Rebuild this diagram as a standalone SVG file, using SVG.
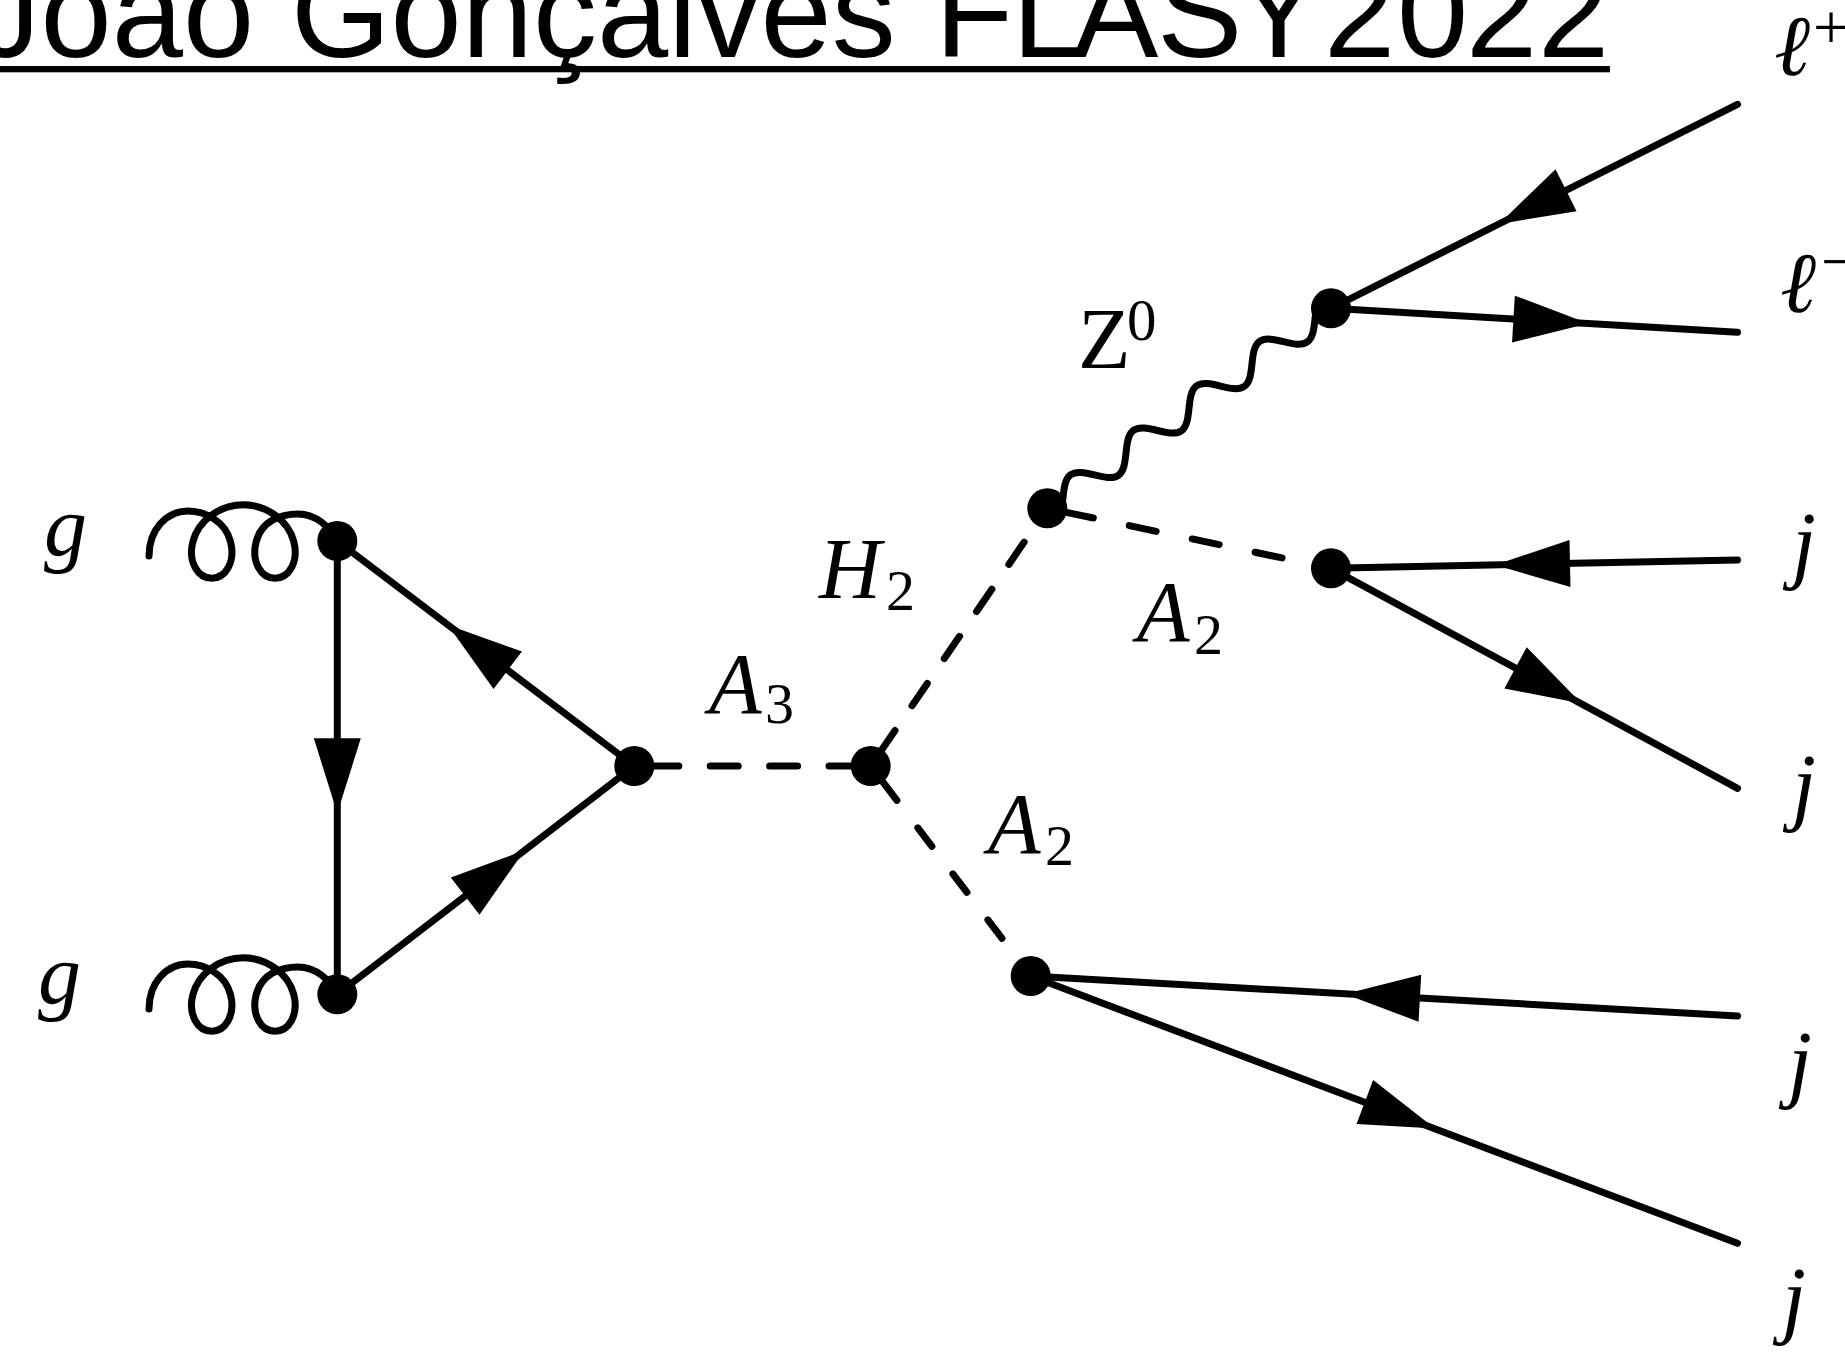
<svg xmlns="http://www.w3.org/2000/svg" xmlns:xlink="http://www.w3.org/1999/xlink" width="1845" height="1355" viewBox="0 0 1845 1355">
<style>
.bg{fill:#fff}
.f{stroke:#000;stroke-width:7;stroke-linecap:round;stroke-linejoin:round;fill:none}
.v{fill:#000}
.a{fill:#000}
.m{font-family:"Liberation Serif","DejaVu Serif",serif;font-style:italic;font-size:86px;fill:#000}
.r{font-style:normal}
.s{font-style:normal;font-size:58px}
.t{font-family:"Liberation Sans",Arial,Helvetica,sans-serif;font-size:128px;fill:#000}
</style>
<defs>
<path id="arr" d="M0,0 L-75,-23.5 L-75,23.5 Z"/>
<path id="gluon" d="M149,556 C149,530 166,511 188,511 C205,511 225.21,521.23 230.48,541.5 C235.75,561.77 225.54,578.2 211.7,578.2 C197.86,578.2 187.65,561.77 192.92,541.5 C198.19,521.23 218.96,504.8 243.34,504.8 C267.72,504.8 288.49,521.23 293.76,541.5 C299.03,561.77 288.81,578.2 274.97,578.2 C261.13,578.2 250.93,561.77 256.2,541.5 C261.47,521.23 280,514 298,514 C316,514 330,527 337.3,541"/>
</defs>
<rect class="bg" x="0" y="0" width="1845" height="1355"/>

<g id="title">
<text class="t" y="57"><tspan x="-23.5">João </tspan><tspan x="291">Gonçalves </tspan><tspan x="935 1012 1073 1157 1236 1324 1397 1466 1538">FLASY2022</tspan></text>
<rect x="-40" y="66" width="1650" height="6.3" fill="#000"/>
</g>

<g id="connectors">
<!-- gluons -->
<use xlink:href="#gluon" href="#gluon" class="f"/>
<use xlink:href="#gluon" href="#gluon" class="f" transform="translate(0,453)"/>
<!-- fermion loop -->
<line class="f" x1="337.3" y1="541" x2="337.3" y2="994.3"/>
<line class="f" x1="337.3" y1="541" x2="634.3" y2="766"/>
<line class="f" x1="337.3" y1="994.3" x2="634.3" y2="766"/>
<!-- scalars (dashed) -->
<line class="f" x1="634.3" y1="766" x2="870.7" y2="766" stroke-dasharray="28 31.4" stroke-dashoffset="42.9"/>
<line class="f" x1="870.7" y1="766" x2="1047.3" y2="508.3" stroke-dasharray="27 30.1" stroke-dashoffset="41.1"/>
<line class="f" x1="1047.3" y1="508.3" x2="1331" y2="568.3" stroke-dasharray="27.5 36.8" stroke-dashoffset="44.8"/>
<line class="f" x1="870.7" y1="766" x2="1030.7" y2="976" stroke-dasharray="23.2 34.6" stroke-dashoffset="37.8"/>
<!-- photon -->
<path class="f" transform="translate(1047.3,508.3) rotate(-35.21)" d="M0,14 C14.04,14 24.5,-14 38.54,-14 S63.04,14 77.08,14 S101.58,-14 115.62,-14 S140.12,14 154.16,14 S178.66,-14 192.7,-14 S217.2,14 231.24,14 S255.74,-14 269.78,-14 S294.28,14 308.32,14 S332.82,-14 346.86,-14"/>
<!-- external fermions -->
<line class="f" x1="1331" y1="308.3" x2="1737.5" y2="104.3"/>
<line class="f" x1="1331" y1="308.3" x2="1737.5" y2="332.3"/>
<line class="f" x1="1331" y1="568.3" x2="1737.5" y2="560"/>
<line class="f" x1="1331" y1="568.3" x2="1737.5" y2="788.3"/>
<line class="f" x1="1030.7" y1="976" x2="1737.5" y2="1016"/>
<line class="f" x1="1030.7" y1="976" x2="1737.5" y2="1243.3"/>
<!-- arrowheads -->
<use xlink:href="#arr" href="#arr" class="a" transform="translate(337.3,813.3) rotate(90)"/>
<use xlink:href="#arr" href="#arr" class="a" transform="translate(447.9,625) rotate(217.11)"/>
<use xlink:href="#arr" href="#arr" class="a" transform="translate(524.6,850.3) rotate(-37.55)"/>
<use xlink:href="#arr" href="#arr" class="a" transform="translate(1499,223.9) rotate(153.38)"/>
<use xlink:href="#arr" href="#arr" class="a" transform="translate(1588.3,323.5) rotate(3.37)"/>
<use xlink:href="#arr" href="#arr" class="a" transform="translate(1495,565) rotate(178.83)"/>
<use xlink:href="#arr" href="#arr" class="a" transform="translate(1581.5,703.6) rotate(28.45)"/>
<use xlink:href="#arr" href="#arr" class="a" transform="translate(1345,994) rotate(183.24)"/>
<use xlink:href="#arr" href="#arr" class="a" transform="translate(1435,1128.6) rotate(20.71)"/>
</g>

<g id="v-gg-top"><circle class="v" cx="337.3" cy="541" r="20"/></g>
<g id="v-gg-bottom"><circle class="v" cx="337.3" cy="994.3" r="20"/></g>
<g id="v-loop"><circle class="v" cx="634.3" cy="766" r="20"/></g>
<g id="v-a3"><circle class="v" cx="870.7" cy="766" r="20"/></g>
<g id="v-h2"><circle class="v" cx="1047.3" cy="508.3" r="20"/></g>
<g id="v-z"><circle class="v" cx="1331" cy="308.3" r="20"/></g>
<g id="v-a2-upper"><circle class="v" cx="1331" cy="568.3" r="20"/></g>
<g id="v-a2-lower"><circle class="v" cx="1030.7" cy="976" r="20"/></g>

<g id="labels">
<g id="l-g1"><text class="m" font-size="82" x="44" y="555">g</text></g>
<g id="l-g2"><text class="m" font-size="82" x="38" y="1003">g</text></g>
<g id="l-a3"><text class="m" x="709" y="712.7">A<tspan class="s" x="765" y="723">3</tspan></text></g>
<g id="l-h2"><text class="m" x="819" y="598.3">H<tspan class="s" x="886" y="610">2</tspan></text></g>
<g id="l-a2-upper"><text class="m" x="1137" y="641">A<tspan class="s" x="1194" y="654">2</tspan></text></g>
<g id="l-a2-lower"><text class="m" x="988" y="852.7">A<tspan class="s" x="1045" y="865">2</tspan></text></g>
<g id="l-z0"><text class="m r" x="1078" y="368">Z<tspan font-size="59" x="1127" y="340">0</tspan></text></g>
<g id="l-lplus"><text class="m" font-size="82" x="1774" y="75">ℓ<tspan class="r" font-size="64" x="1813" y="49">+</tspan></text></g>
<g id="l-lminus"><text class="m" font-size="82" x="1780" y="312">ℓ<tspan class="r" font-size="64" x="1821" y="283">−</tspan></text></g>
<g id="l-j1"><text class="m" font-size="82" x="1792" y="572">j</text></g>
<g id="l-j2"><text class="m" font-size="82" x="1792" y="814">j</text></g>
<g id="l-j3"><text class="m" font-size="82" x="1788" y="1091">j</text></g>
<g id="l-j4"><text class="m" font-size="82" x="1782" y="1327">j</text></g>
</g>
</svg>
